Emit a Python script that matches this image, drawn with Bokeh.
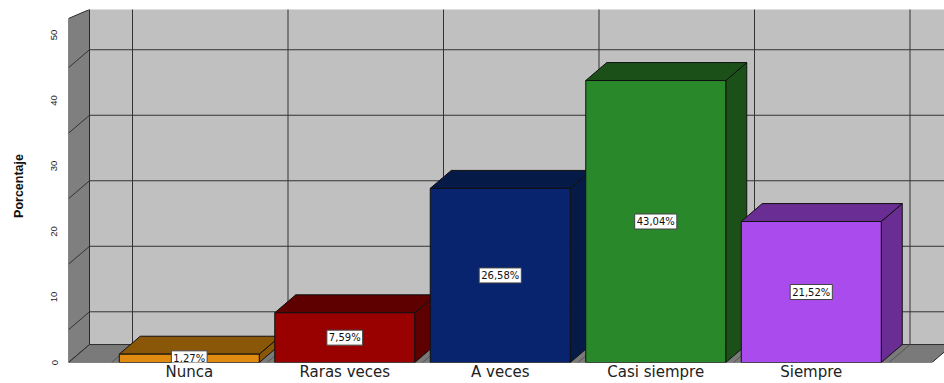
from bokeh.plotting import figure
from bokeh.models import Range1d, FixedTicker, ColumnDataSource
from bokeh.embed import file_html
from bokeh.resources import INLINE
from bokeh.core.properties import value

# ---- data ----
categories = ["Nunca", "Raras veces", "A veces", "Casi siempre", "Siempre"]
percentages = [1.27, 7.59, 26.58, 43.04, 21.52]
front_colors = ["#E08A10", "#990000", "#08246E", "#29882A", "#AA4BEE"]
dark_colors = ["#8A5709", "#5E0000", "#061A48", "#1B5119", "#6A2D94"]
y_ticks = [0, 10, 20, 30, 40, 50]
grid_values = [5, 15, 25, 35, 45]

# ---- geometry (data units) ----
PX_X = 155.5          # pixels per category
PX_Y = 6.57           # pixels per percent
DX = 21 / PX_X        # depth offset x
DY = 18 / PX_Y        # depth offset y
BAR_W = 140 / PX_X
PAD = 43 / PX_X
n = len(categories)
x_start = -0.5 - PAD
x_floor_end = n - 0.5 + PAD
W, H = 944, 383
ML, MR, MT, MB = 68, 0, 9, 20
x_end = x_start + (W - ML - MR) / PX_X
y_end = (H - MT - MB) / PX_Y

p = figure(width=W, height=H, output_backend="svg", toolbar_location=None,
           x_range=Range1d(x_start, x_end), y_range=Range1d(0, y_end),
           min_border_left=ML, min_border_right=MR, min_border_top=MT,
           min_border_bottom=MB, background_fill_color="white",
           border_fill_color="white", outline_line_color=None)
p.grid.visible = False

edge = "#2a2a2a"
# back wall
p.patch([x_start + DX, x_end + 1, x_end + 1, x_start + DX],
        [DY, DY, y_end + 1, y_end + 1],
        fill_color="#C0C0C0", line_color=None)
# left wall
p.patch([x_start, x_start + DX, x_start + DX, x_start],
        [0, DY, y_end, y_end - 9 / PX_Y],
        fill_color="#7F7F7F", line_color=edge, line_width=1)
# floor
p.patch([x_start, x_floor_end, x_floor_end + DX, x_start + DX],
        [0, 0, DY, DY], fill_color="#7A7A7A", line_color=edge, line_width=1)

# grid lines: back wall horizontals + left wall diagonals
for g in grid_values:
    p.line([x_start + DX, x_end + 1], [g + DY, g + DY], line_color="#333333", line_width=1)
    p.line([x_start, x_start + DX], [g, g + DY], line_color="#333333", line_width=1)
# category boundaries: back wall verticals + floor diagonals
for b in [i - 0.5 for i in range(n + 1)]:
    p.line([b + DX, b + DX], [DY, y_end + 1], line_color="#333333", line_width=1)
    p.line([b, b + DX], [0, DY], line_color="#555555", line_width=1)
p.line([x_start + DX, x_start + DX], [DY, y_end], line_color=edge, line_width=1)

# bars
for i, v in enumerate(percentages):
    x0 = i - BAR_W / 2
    x1 = i + BAR_W / 2
    # side face
    p.patch([x1, x1 + DX, x1 + DX, x1], [0, DY, v + DY, v],
            fill_color=dark_colors[i], line_color="#111111", line_width=1)
    # top face
    p.patch([x0, x1, x1 + DX, x0 + DX], [v, v, v + DY, v + DY],
            fill_color=dark_colors[i], line_color="#111111", line_width=1)
    # front face
    p.patch([x0, x1, x1, x0], [0, 0, v, v],
            fill_color=front_colors[i], line_color="#111111", line_width=1)

# value labels
labels = [f"{v:.2f}".replace(".", ",") + "%" for v in percentages]
src = ColumnDataSource(dict(x=list(range(n)), y=[v / 2 for v in percentages], t=labels))
p.text(x="x", y="y", text="t", source=src, text_align="center", text_baseline="middle",
       text_font=value("DejaVu Sans"), text_font_size="10px", text_color="#111111",
       background_fill_color="white", border_line_color="#444444", border_line_width=1,
       padding=2)

# axes
ya = p.yaxis[0]
ya.ticker = FixedTicker(ticks=y_ticks)
ya.major_label_orientation = "vertical"
ya.major_tick_line_color = None
ya.major_tick_out = 0
ya.major_tick_in = 0
ya.minor_tick_line_color = None
ya.axis_line_color = None
ya.major_label_standoff = 11
ya.major_label_text_font = "Liberation Sans"
ya.major_label_text_font_size = "9.5px"
ya.major_label_text_color = "#222222"
ya.axis_label = "Porcentaje"
ya.axis_label_text_font = "Liberation Sans"
ya.axis_label_text_font_style = "bold"
ya.axis_label_text_font_size = "12.5px"
ya.axis_label_text_color = "#111111"
ya.axis_label_standoff = 23

xa = p.xaxis[0]
xa.ticker = FixedTicker(ticks=list(range(n)))
xa.major_label_overrides = {i: c for i, c in enumerate(categories)}
xa.major_tick_line_color = None
xa.major_tick_out = 0
xa.major_tick_in = 0
xa.minor_tick_line_color = None
xa.axis_line_color = None
xa.major_label_standoff = 0
xa.major_label_text_font = "DejaVu Sans"
xa.major_label_text_font_size = "15px"
xa.major_label_text_color = "#222222"

open("out.html", "w").write(file_html(p, INLINE))
